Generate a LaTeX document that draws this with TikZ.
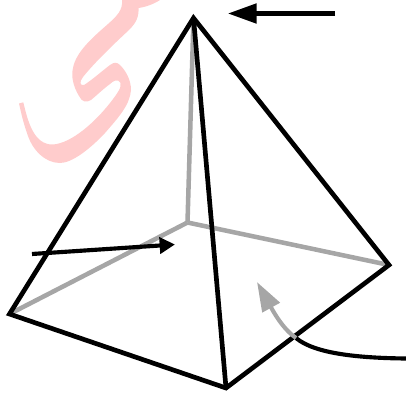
\documentclass[tikz,border=0pt]{standalone}
\usetikzlibrary{arrows.meta}
\definecolor{wmark}{HTML}{FFCCCC}
\definecolor{hidden}{HTML}{A6A6A6}
\tikzset{
 edgeblack/.style={draw=black,line width=3.5pt,line join=miter},
 edgegray/.style={draw=hidden,line width=3.4pt,line join=miter},
 arrowline/.style={line width=3.1pt},
}
\begin{document}
\begin{tikzpicture}[x=0.75pt,y=-0.75pt]
\useasboundingbox (0,0) rectangle (406,392);
% watermark
\fill[wmark] (19,103.5) -- (23.3,102.3)
 .. controls (28,122) and (34,145) .. (53,144.5)
 .. controls (72,143) and (95,122) .. (110,103)
 .. controls (117,94) and (122,87) .. (120.5,83)
 .. controls (118,78) and (113,81) .. (110,84)
 .. controls (102,90) and (96,96) .. (91,100)
 .. controls (86,103) and (82,102) .. (79,96)
 .. controls (73,86) and (71,76) .. (73,68)
 .. controls (76,52) and (92,38) .. (108,24)
 .. controls (117,16) and (123,10) .. (122,0)
 -- (160,0)
 .. controls (154,4) and (146,7) .. (138.5,8)
 .. controls (139,17) and (136,23) .. (129,30)
 .. controls (115,43) and (95,62) .. (83,77)
 .. controls (79,82) and (80,86) .. (84,85)
 .. controls (92,80) and (102,71) .. (110,65)
 .. controls (114,62) and (117,62) .. (120,65)
 .. controls (126,71) and (131,80) .. (131,90)
 .. controls (130,105) and (118,118) .. (105,133)
 .. controls (90,149) and (72,163) .. (60,163)
 .. controls (45,163) and (32,150) .. (27,133)
 .. controls (23,122) and (21,112) .. (19,103.5) -- cycle;
\coordinate (A) at (193.5,18);
\coordinate (B) at (9.5,314);
\coordinate (C) at (226,388);
\coordinate (D) at (389,265);
\coordinate (E) at (187.5,222.5);
\draw[edgegray] (A) -- (E);
\draw[edgegray] (B) -- (E);
\draw[edgegray] (D) -- (E);
\draw[edgeblack] (A) -- (B) -- (C) -- (D) -- cycle;
\draw[edgeblack] (A) -- (C);
% top arrow
\coordinate (t1) at (335,13.5);
\coordinate (t2) at (228,13.5);
\draw[arrowline,-{Triangle[length=21.5pt,width=14.5pt]}] (t1) -- (t2);
% left arrow
\coordinate (l1) at (32,254);
\coordinate (l2) at (175,244.5);
\draw[arrowline,-{Triangle[length=11.5pt,width=12pt]}] (l1) -- (l2);
% lower arrow
\coordinate (m) at (296,338);
\coordinate (r) at (406,358.5);
\coordinate (h) at (257,282);
\draw[arrowline,black] (r) .. controls (360,358) and (315,354) .. (m);
\draw[arrowline,hidden,-{Triangle[length=22pt,width=14.5pt]}] (m) .. controls (286,331) and (278,320) .. (h);
\end{tikzpicture}
\end{document}
